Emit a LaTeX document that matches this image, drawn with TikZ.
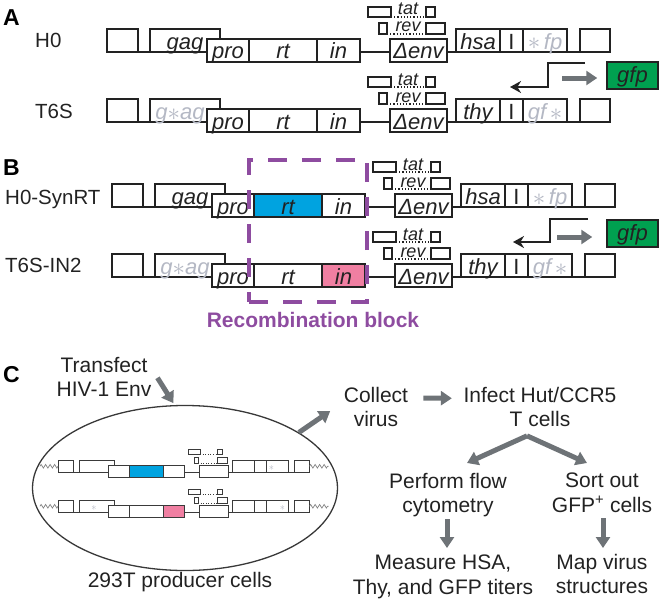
\documentclass[tikz,border=0pt]{standalone}
\usepackage{fontspec}
\setmainfont{Liberation Sans}
\usetikzlibrary{arrows.meta,shapes.geometric,decorations.pathmorphing}
\definecolor{lg}{HTML}{B4B8C4}
\definecolor{rtblue}{HTML}{00A3E0}
\definecolor{inpink}{HTML}{F07FA2}
\definecolor{gfpgreen}{HTML}{00A050}
\definecolor{recpurple}{HTML}{8E4CA0}
\definecolor{arrgray}{HTML}{6E7377}
\definecolor{ink}{HTML}{222222}
\definecolor{minigray}{HTML}{3A3A3A}
\newcommand\genelab[1]{#1}
\newcommand\genefont{\fontsize{22}{22}\selectfont\itshape}
\newcommand\bigast{\raisebox{-1pt}{\fontsize{25}{25}\selectfont$\ast$}}
\newcommand\geneconstruct[6]{%
  \coordinate (#1o) at (0,0);
  \node[tbox, minimum width=31pt] (#1b1) at (15.5,-11.5) {};
  \node[tbox, minimum width=70pt] (#1gag) at (78,-11.5) {#2};
  \node[tbox, minimum width=42pt] (#1pro) at (121,-1.5) {\genelab{pro}};
  \node[tbox, minimum width=68pt, fill=#3] (#1rt) at (176,-1.5) {\genelab{rt}};
  \node[tbox, minimum width=43pt, fill=#4] (#1in) at (231.5,-1.5) {\genelab{in}};
  \node[tbox, minimum width=57pt] (#1env) at (311.5,-1.5) {\genelab{Δenv}};
  \node[tbox, minimum width=44pt] (#1hsa) at (371,-11.5) {#5};
  \node[tbox, minimum width=23pt] (#1I) at (404.5,-11.5) {\upshape\genelab{I}};
  \node[tbox, minimum width=44pt] (#1fp) at (438,-11.5) {#6};
  \node[tbox, minimum width=30pt] (#1last) at (488,-11.5) {};
  \draw[bline] (#1b1.south east) -- (#1gag.south west);
  \draw[bline] (#1in.east |- #1o) -- (#1env.west |- #1o);
  \draw[bline] (#1env.east |- #1o) -- (#1hsa.south west);
  \draw[bline] (#1fp.south east) -- (#1last.south west);
  \node[sbox, minimum width=23pt, minimum height=10pt] (#1tl) at (272.5,-40) {};
  \node[sbox, minimum width=9pt, minimum height=10pt] (#1tr) at (323.5,-40) {};
  \node[sbox, minimum width=8pt, minimum height=11pt] (#1rl) at (276,-23.5) {};
  \node[sbox, minimum width=19pt, minimum height=11pt] (#1rr) at (328.5,-23.5) {};
  \draw[dline] (#1tl.south east) -- (#1tr.south west);
  \draw[dline] (#1rl.south east) -- (#1rr.south west);
  \node[smalllab, anchor=base] (#1tat) at (301,-37) {\genelab{tat}};
  \node[smalllab, anchor=base] (#1rev) at (301,-20) {\genelab{rev}};
}
\tikzset{
  boxline/.style={draw=ink, line width=1.5pt},
  tbox/.style={boxline, fill=white, inner sep=0pt, outer sep=0pt, minimum height=23pt,
    font=\genefont, text=ink, text height=20pt, text depth=3pt},
  sbox/.style={boxline, fill=white, inner sep=0pt, outer sep=0pt},
  bline/.style={boxline},
  dline/.style={draw=ink, line width=1.2pt, dotted},
  smalllab/.style={inner sep=0pt, font=\fontsize{18}{18}\selectfont\itshape, text=ink},
  rowlab/.style={inner sep=0pt, anchor=base west, font=\fontsize{20.5}{24}\selectfont, text=ink},
  panellab/.style={inner sep=0pt, anchor=base west, font=\fontsize{23}{23}\selectfont\bfseries},
  ctext/.style={inner sep=0pt, anchor=north, align=center, font=\fontsize{21}{24.5}\selectfont, text=ink},
  garrow/.style={draw=arrgray, line width=5pt, -{Triangle[length=11pt,width=14pt]}},
  promo/.style={draw=ink, line width=2.5pt, -{Stealth[length=11pt,width=12pt]}},
  gfpbox/.style={draw=ink, line width=1.5pt, fill=gfpgreen, inner sep=0pt, minimum width=51pt,
    minimum height=27pt, font=\genefont, text=ink, text height=17pt, text depth=4pt},
  wavy/.style={draw=gray, line width=0.7pt, decorate, decoration={zigzag, segment length=4.5pt, amplitude=1.8pt}}
}
\begin{document}
\begin{tikzpicture}[x=1pt,y=-1pt]
\useasboundingbox (0,0) rectangle (661,602);

% ---------- Panel A ----------
\node[panellab] (labA) at (3,26) {A};
\node[rowlab] (lH0) at (35,48) {H0};
\node[rowlab] (lT6S) at (35,118) {T6S};
\begin{scope}[shift={(107,52)}]
  \geneconstruct{ah}{\genelab{gag}}{white}{white}{\genelab{hsa}}{{\color{lg}\bigast\,\genelab{fp}}}
\end{scope}
\begin{scope}[shift={(107,122)}]
  \geneconstruct{at}{{\color{lg}\genelab{g}\bigast\genelab{ag}}\hspace*{10pt}}{white}{white}{\genelab{thy}}{{\color{lg}\genelab{gf}\,\bigast}}
\end{scope}
\draw[promo] (585,63) -- (548,63) -- (548,87) -- (510,87);
\node[gfpbox] (gfpA) at (632.5,75.5) {gfp};
\draw[garrow] ([shift={(-44,2.5)}]gfpA.west) -- ([shift={(-9,2.5)}]gfpA.west);

% ---------- Panel B ----------
\node[panellab] (labB) at (3,175) {B};
\node[rowlab] (lSyn) at (5,204) {H0-SynRT};
\node[rowlab] (lIN2) at (5,272) {T6S-IN2};
\begin{scope}[shift={(112,207)}]
  \geneconstruct{bh}{\genelab{gag}}{rtblue}{white}{\genelab{hsa}}{{\color{lg}\bigast\,\genelab{fp}}}
\end{scope}
\begin{scope}[shift={(112,277)}]
  \geneconstruct{bt}{{\color{lg}\genelab{g}\bigast\genelab{ag}}\hspace*{10pt}}{white}{inpink}{\genelab{thy}}{{\color{lg}\genelab{gf}\,\bigast}}
\end{scope}
\draw[promo] (588,219) -- (550,219) -- (550,242) -- (513,242);
\node[gfpbox] (gfpB) at (632.5,233.5) {gfp};
\draw[garrow] ([shift={(-49,3.5)}]gfpB.west) -- ([shift={(-14,3.5)}]gfpB.west);
\node[draw=recpurple, line width=4pt, dash pattern=on 19pt off 15pt, inner sep=0pt,
  minimum width=118pt, minimum height=142pt] (recblock) at (308,231) {};
\node[inner sep=0pt, font=\fontsize{21}{21}\selectfont\bfseries, text=recpurple] (reclab) at (313,319.5) {Recombination block};

% ---------- Panel C ----------
\node[panellab] (labC) at (3,382) {C};
\node[ctext] (transfect) at (104,356.8) {Transfect\\HIV-1 Env};
\node[ellipse, draw=ink!90, line width=1.3pt, inner sep=0pt, minimum width=305pt, minimum height=165pt] (cell) at (185,488) {};
\node[ctext] (producer) at (180,572) {293T producer cells};
\begin{scope}[shift={(58,472)}, scale=0.5, transform shape]
  \renewcommand\genelab[1]{\phantom{#1}}
  \tikzset{boxline/.style={draw=minigray, line width=1.0pt}, dline/.style={draw=minigray, line width=0.6pt, dotted}}
  \geneconstruct{ma}{\genelab{gag}}{rtblue}{white}{\genelab{hsa}}{{\color{lg}$\ast$\,\genelab{fp}}}
  \draw[wavy] (mab1.west) -- ++(-36,0);
  \draw[wavy] (malast.east) -- ++(38,0);
\end{scope}
\begin{scope}[shift={(58,512)}, scale=0.5, transform shape]
  \renewcommand\genelab[1]{\phantom{#1}}
  \tikzset{boxline/.style={draw=minigray, line width=1.0pt}, dline/.style={draw=minigray, line width=0.6pt, dotted}}
  \geneconstruct{mb}{{\color{lg}\genelab{g}$\ast$\genelab{ag}}}{white}{inpink}{\genelab{thy}}{{\color{lg}\genelab{gf}\,$\ast$}}
  \draw[wavy] (mbb1.west) -- ++(-36,0);
  \draw[wavy] (mblast.east) -- ++(38,0);
\end{scope}
\node[ctext] (collect) at (376,386.7) {Collect\\virus};
\node[ctext] (infect) at (540,387) {Infect Hut/CCR5\\T cells};
\node[ctext] (perform) at (448,472.7) {Perform flow\\cytometry};
\node[ctext] (sort) at (602,472.7) {Sort out\\GFP\textsuperscript{+} cells};
\node[ctext] (measure) at (443,555) {Measure HSA,\\Thy, and GFP titers};
\node[ctext] (map) at (602,554) {Map virus\\structures};

\draw[garrow] ([shift={(6,21)}]transfect.north east) -- ([shift={(0,-2)}]cell.98);
\draw[garrow] (cell.26) -- ([shift={(-13.5,24.3)}]collect.north west);
\draw[garrow] ([shift={(15,11.3)}]collect.north east) -- ([shift={(-11.5,11.3)}]infect.north west);
\draw[garrow] ([shift={(-13,8.5)}]infect.south) -- ([shift={(19,-9.7)}]perform.north);
\draw[garrow] ([shift={(-13,8.5)}]infect.south) -- ([shift={(-15,-9.7)}]sort.north);
\draw[garrow] ([shift={(-1,2)}]perform.south) -- ([shift={(4,-7)}]measure.north);
\draw[garrow] ([shift={(1,6)}]sort.south) -- ([shift={(1,-6)}]map.north);
\end{tikzpicture}
\end{document}
